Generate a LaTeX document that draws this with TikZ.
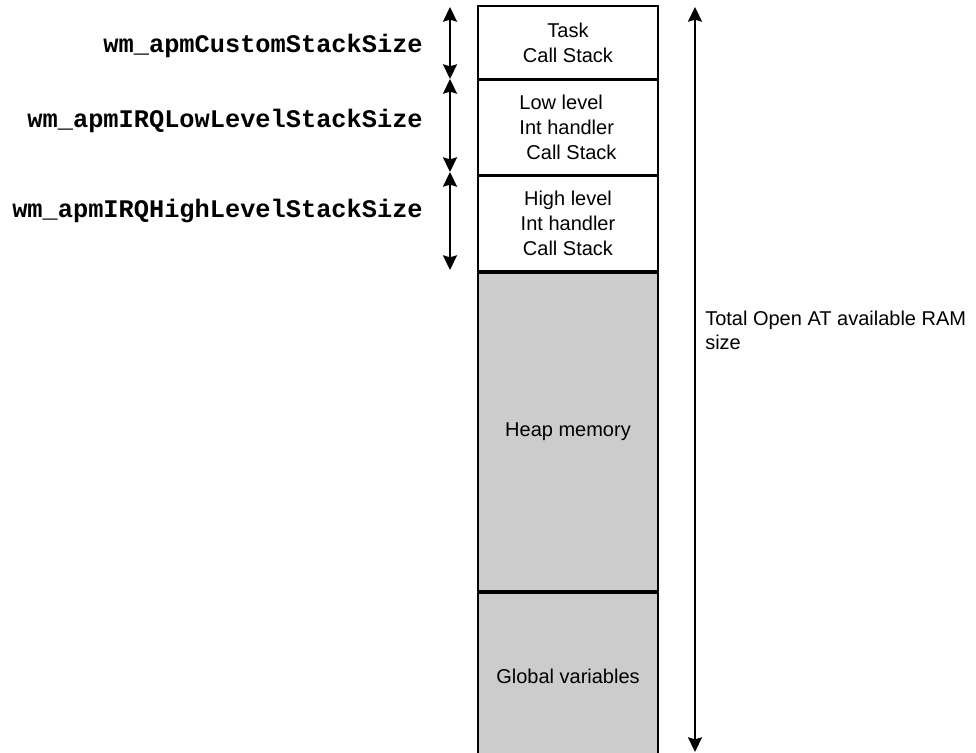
\documentclass[tikz,border=0pt]{standalone}
\usepackage{fontspec}
\setmainfont{Liberation Sans}
\newfontfamily\codefont{Liberation Mono}
\usetikzlibrary{arrows.meta, positioning}
\definecolor{memgray}{RGB}{204,204,204}

\tikzset{
  stackbox/.style={draw, line width=1.3pt, fill=white, inner sep=0pt,
    minimum width=135pt, font=\fontsize{15}{18.75}\selectfont, align=center},
  heapbox/.style={stackbox, fill=memgray},
  sizearrow/.style={line width=1.4pt,
    {Stealth[length=11pt,width=10.5pt,inset=1.5pt]}-{Stealth[length=11pt,width=10.5pt,inset=1.5pt]}},
  varname/.style={font=\codefont\bfseries\fontsize{19}{22}\selectfont, anchor=east, inner sep=0pt},
}

\begin{document}
\begin{tikzpicture}[x=0.75pt,y=0.75pt,yscale=-1,xscale=1]
\useasboundingbox (0,0) rectangle (976,753);

%Memory blocks
\node [stackbox, anchor=north, minimum height=54.75pt] (task) at (568,5) {Task\\Call Stack};
\node [stackbox, below=0pt of task, minimum height=70.5pt, align=left] (lowirq) {Low level\\Int handler\\\hspace*{0.35em}Call Stack};
\node [stackbox, below=0pt of lowirq, minimum height=71.25pt] (highirq) {High level\\Int handler\\Call Stack};
\node [heapbox, below=0pt of highirq, minimum height=238.5pt] (heap) {Heap memory};
\node [heapbox, below=0pt of heap, minimum height=125.25pt] (globals) {Global variables};

%Size arrows on the left
\coordinate (s0) at (450,7);
\coordinate (s1) at (450,79);
\coordinate (s2) at (450,172);
\coordinate (s3) at (450,270);
\draw [sizearrow] (s0) -- (s1);
\draw [sizearrow] (s1) -- (s2);
\draw [sizearrow] (s2) -- (s3);

% Text Node
\node [varname] (custom) at (423,46) {wm\_apmCustomStackSize};
% Text Node
\node [varname] (lowsize) at (423,121) {wm\_apmIRQLowLevelStackSize};
% Text Node
\node [varname] (highsize) at (423,211) {wm\_apmIRQHighLevelStackSize};

%Total size arrow
\coordinate (t0) at (695,7);
\coordinate (t1) at (695,752);
\draw [sizearrow] (t0) -- (t1);

% Text Node
\node [anchor=west, align=left, inner sep=0pt, font=\fontsize{15}{18}\selectfont] (total) at (705,330) {Total Open AT available RAM\\size};

\end{tikzpicture}
\end{document}
